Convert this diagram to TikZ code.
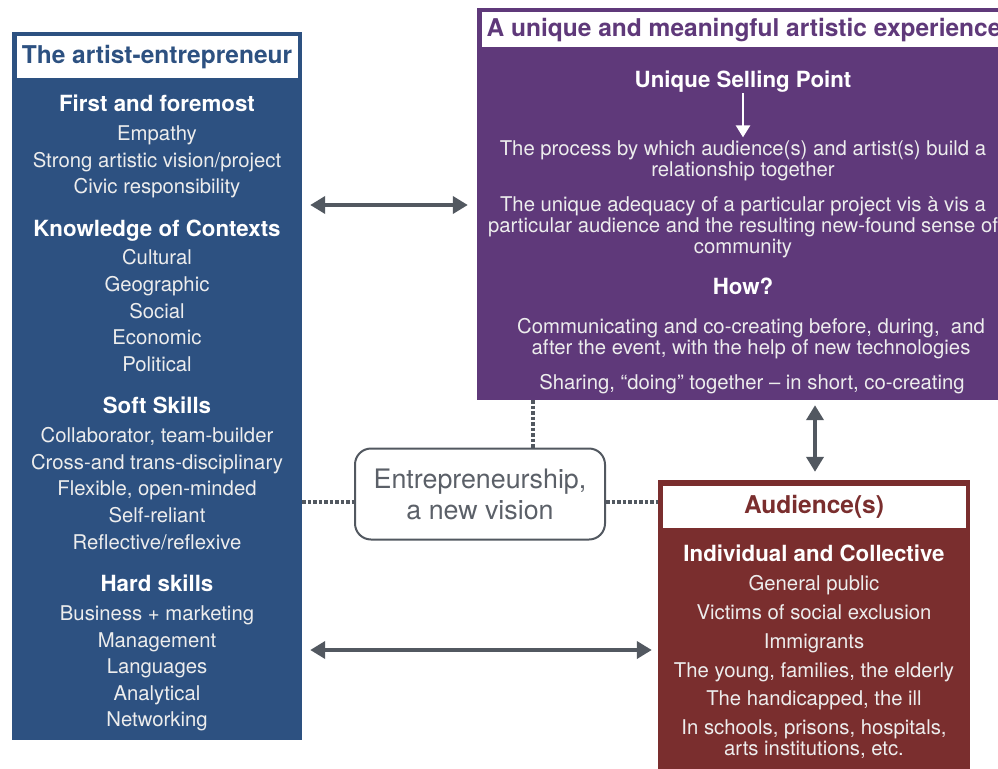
\documentclass[tikz,border=0pt]{standalone}
\usepackage{fontspec}
\setmainfont{TeX Gyre Heros}
\usetikzlibrary{arrows.meta}
\definecolor{artblue}{RGB}{45,81,129}
\definecolor{exppurple}{RGB}{95,57,122}
\definecolor{audred}{RGB}{122,46,46}
\definecolor{linkgray}{RGB}{82,88,96}
\tikzset{
  panel/.style={inner sep=0pt,draw=none},
  headbox/.style={fill=white,line width=1pt,minimum height=42pt,inner sep=0pt,font=\bfseries\fontsize{24.5}{28}\selectfont},
  hd/.style={anchor=base,text=white,font=\bfseries\fontsize{22.3}{26}\selectfont},
  it/.style={anchor=base,text=white!93!black,font=\fontsize{20.3}{21}\selectfont},
  para/.style={text=white!93!black,font=\fontsize{20.3}{21}\selectfont,align=center},
  dbl/.style={linkgray,line width=4pt,{Triangle[length=15pt,width=17pt]}-{Triangle[length=15pt,width=17pt]}},
  dotlink/.style={linkgray,line width=3.5pt,dash pattern=on 3.5pt off 2pt}
}
\begin{document}
\begin{tikzpicture}[x=1pt,y=-1pt]
  \useasboundingbox (0,0) rectangle (998,768);
  \node[panel,fill=artblue,minimum width=290pt,minimum height=708pt](artist)at(157,386){};%左の枠
  \node[headbox,draw=artblue,text=artblue,minimum width=282pt](artisthd)at(157,57){The artist-entrepreneur};
  \node[panel,fill=exppurple,minimum width=534pt,minimum height=392pt](exp)at(744,204){};%右上の枠
  \node[headbox,draw=exppurple,text=exppurple,minimum width=526pt,minimum height=36pt](exphd)at(744,30){A unique and meaningful artistic experience};
  \node[panel,fill=audred,minimum width=312pt,minimum height=300pt](aud)at(814,630){};%右下の枠
  \node[headbox,draw=audred,text=audred,minimum width=304pt,minimum height=43pt](audhd)at(814,506.5){Audience(s)};
  \node[fill=white,draw=linkgray,line width=2pt,rounded corners=16pt,minimum width=250pt,minimum height=91pt,
    align=center,text=linkgray!95,font=\fontsize{26.8}{31}\selectfont](vision)at(480,494){Entrepreneurship,\\a new vision};
  % 左の項目
  \foreach \s/\t/\y [count=\i] in {hd/First and foremost/111,it/Empathy/140,it/Strong artistic vision\slash project/167,
      it/Civic responsibility/193,hd/Knowledge of Contexts/236,it/Cultural/264,it/Geographic/291,it/Social/318,
      it/Economic/344,it/Political/371,hd/Soft Skills/413,it/{Collaborator, team-builder}/442,
      it/Cross-and trans-disciplinary/469,it/{Flexible, open-minded}/495,it/Self-reliant/522,
      it/Reflective\slash reflexive/549,hd/Hard skills/591,it/Business + marketing/620,it/Management/647,
      it/Languages/673,it/Analytical/700,it/Networking/726}
    \node[\s](l\i)at(157,\y){\t};
  % 右上の項目
  \node[hd](usp)at(743,88){Unique Selling Point};
  \node[para](proc)at(743,161){The process by which audience(s) and artist(s) build a\\relationship together};
  \node[para](adeq)at(743,227){The unique adequacy of a particular project vis à vis a\\particular audience and the resulting new-found sense of\\community};
  \node[hd](how)at(743,294){How?};
  \node[para](comm)at(751,339){Communicating and co-creating before, during,\ \ and\\after the event, with the help of new technologies};
  \node[it](share)at(752,389){Sharing, “doing” together – in short, co-creating};
  \draw[white,line width=2.5pt,-{Triangle[length=12pt,width=14pt]},shorten <=-3pt](usp.south)--(proc.north);
  % 右下の項目
  \foreach \s/\t/\y [count=\i] in {hd/Individual and Collective/561,it/General public/590,
      it/Victims of social exclusion/619,it/Immigrants/648,it/{The young, families, the elderly}/677,
      it/{The handicapped, the ill}/705}
    \node[\s](r\i)at(814,\y){\t};
  \node[para](where)at(814,739){In schools, prisons, hospitals,\\arts institutions, etc.};
  % 矢印と点線
  \coordinate(arrA)at(0,205);
  \coordinate(arrB)at(0,650);
  \coordinate(arrC)at(815,0);
  \coordinate(dotY)at(0,502);
  \coordinate(dotX)at(533,0);
  \draw[dbl,shorten <=8pt,shorten >=9pt](artist.east|-arrA)--(exp.west|-arrA);
  \draw[dbl,shorten <=8pt,shorten >=6pt](artist.east|-arrB)--(aud.west|-arrB);
  \draw[dbl,shorten <=5pt,shorten >=8pt](exp.south-|arrC)--(aud.north-|arrC);
  \draw[dotlink](artist.east|-dotY)--(vision.west|-dotY);
  \draw[dotlink](vision.east|-dotY)--(aud.west|-dotY);
  \draw[dotlink](exp.south-|dotX)--(vision.north-|dotX);
\end{tikzpicture}
\end{document}
